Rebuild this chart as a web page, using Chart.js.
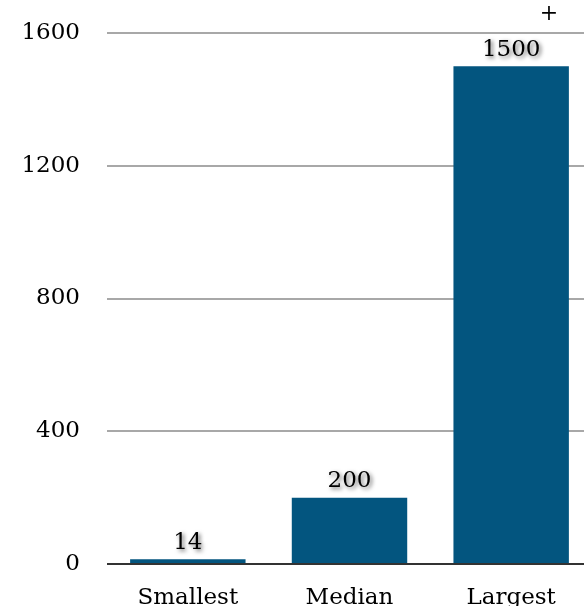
<!DOCTYPE html>
<html>
<head>
<meta charset="utf-8">
<style>
  html, body { margin: 0; padding: 0; overflow: hidden; background: #fff; }
  canvas { display: block; }
</style>
</head>
<body>
<canvas id="barChart" width="592" height="606"></canvas>
<script src="https://cdn.jsdelivr.net/npm/chart.js"></script>
<script>
  const categories = ['Smallest', 'Median', 'Largest']
  const values = [14, 200, 1500]
  const yTicks = [0, 400, 800, 1200, 1600]

  const FONT = "'DejaVu Serif', serif"

  // value labels above bars, with a soft shadow
  const valueLabels = {
    id: 'valueLabels',
    afterDatasetsDraw(chart) {
      const ctx = chart.ctx
      const meta = chart.getDatasetMeta(0)
      ctx.save()
      ctx.font = '23px ' + FONT
      ctx.fillStyle = '#000'
      ctx.textAlign = 'center'
      ctx.textBaseline = 'bottom'
      ctx.shadowColor = 'rgba(0,0,0,0.6)'
      ctx.shadowBlur = 4
      ctx.shadowOffsetX = 2
      ctx.shadowOffsetY = 2
      meta.data.forEach((bar, i) => {
        ctx.fillText(String(values[i]), bar.x, bar.y - 5)
      })
      ctx.restore()
      // small marker in the top right corner
      ctx.save()
      ctx.font = '22px ' + FONT
      ctx.fillStyle = '#000'
      ctx.textAlign = 'center'
      ctx.textBaseline = 'middle'
      ctx.fillText('+', 549, 14)
      ctx.restore()
    }
  }

  new Chart(document.getElementById('barChart'), {
    type: 'bar',
    data: {
      labels: categories,
      datasets: [{
        data: values,
        backgroundColor: '#03557f',
        borderWidth: 0,
        barPercentage: 0.714,
        categoryPercentage: 1
      }]
    },
    options: {
      responsive: false,
      animation: false,
      layout: { padding: { top: 33, right: 0, left: 0, bottom: 0 } },
      plugins: {
        legend: { display: false },
        tooltip: { enabled: false }
      },
      scales: {
        x: {
          grid: { display: false },
          border: { display: false },
          ticks: {
            color: '#000',
            font: { family: FONT, size: 23 },
            padding: 12,
            maxRotation: 0
          },
          afterFit(scale) {
            scale.height = 42
            scale.paddingLeft = 0
            scale.paddingRight = 0
          }
        },
        y: {
          min: 0,
          max: 1600,
          afterBuildTicks(scale) { scale.ticks = yTicks.map(v => ({ value: v })) },
          grid: {
            color: c => c.tick && c.tick.value === 0 ? '#333' : '#a8a8a8',
            lineWidth: 2,
            drawTicks: false
          },
          border: { display: false },
          ticks: {
            color: '#000',
            font: { family: FONT, size: 23 },
            padding: 27,
            callback: v => String(v)
          },
          afterFit(scale) {
            scale.width = 107
            scale.paddingTop = 0
            scale.paddingBottom = 0
          }
        }
      }
    },
    plugins: [valueLabels]
  })
</script>
</body>
</html>
